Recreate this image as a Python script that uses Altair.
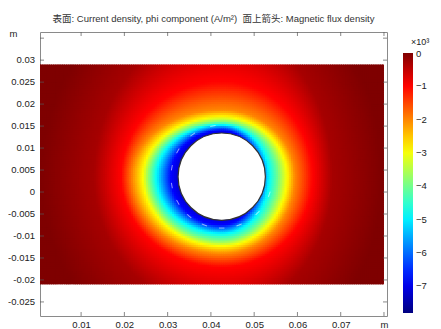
import numpy as np
import pandas as pd
import altair as alt

# ---- text / ticks ----
title_text = "表面: Current density, phi component (A/m²)\u00a0\u00a0面上箭头: Magnetic flux density"
x_tick_values = [0.01, 0.02, 0.03, 0.04, 0.05, 0.06, 0.07, 0.08]
y_tick_values = [-0.025, -0.02, -0.015, -0.01, -0.005, 0.0, 0.005, 0.01, 0.015, 0.02, 0.025, 0.03]
y_tick_labels = ["-0.025", "-0.02", "-0.015", "-0.01", "-0.005", "0",
                 "0.005", "0.01", "0.015", "0.02", "0.025", "0.03"]
y_tick_marks = y_tick_values + [0.035]
legend_values = [-7, -6, -5, -4, -3, -2, -1]
legend_top_label = ["×10³", "0"]

# ---- geometry (m) ----
rect_x = [0.0, 0.08]
rect_y = [-0.021, 0.029]
hole_cx, hole_cy, hole_r = 0.0425, 0.0035, 0.01

# ---- field: contour levels (x10^3 A/m^2) and their
#      distance from the hole centre toward left / right / top / bottom (m)
levels   = [-7.2, -6.8, -4.9, -4.0, -2.9, -2.0, -1.0, -0.3, 0.0]
r_left   = [0.0100, 0.0118, 0.0151, 0.0166, 0.0183, 0.0207, 0.0232, 0.0295, 0.0416]
r_right  = [0.0069, 0.0085, 0.0109, 0.0129, 0.0151, 0.0169, 0.0209, 0.0255, 0.0370]
r_top    = [0.0097, 0.0106, 0.0118, 0.0124, 0.0136, 0.0152, 0.0216, 0.0341, 0.0455]
r_bottom = [0.0094, 0.0110, 0.0129, 0.0144, 0.0158, 0.0175, 0.0205, 0.0305, 0.0432]

# ---- faint flux-density arrows seen around the hole (polar angle, degrees)
arrow_angles = [100, 125, 150, 170, 190, 210, 230, 250, 270, 290, 315, 340]
arrow_radius = 0.0117

color_domain = [-7.8, -6.825, -4.875, -2.925, -0.975, 0.0]
color_range = ["#00007f", "#0000ff", "#00ffff", "#ffff00", "#ff0000", "#7f0000"]

# ---- build the surface cells ----
step = 0.0005
xs = np.arange(rect_x[0], rect_x[1] - 1e-9, step)
ys = np.arange(rect_y[0], rect_y[1] - 1e-9, step)
X, Y = np.meshgrid(xs, ys)
dx = X + step / 2 - hole_cx
dy = Y + step / 2 - hole_cy
L = np.array(r_left)[:, None, None]
R = np.array(r_right)[:, None, None]
T = np.array(r_top)[:, None, None]
B = np.array(r_bottom)[:, None, None]
lv = np.array(levels)
rx = np.where(dx[None] < 0, L, R)
ry = np.where(dy[None] > 0, T, B)
q = np.sqrt((dx[None] / rx) ** 2 + (dy[None] / ry) ** 2)
p = 1.0 / np.maximum(q, 1e-9)
inside = p >= 1
any_in = inside.any(0)
k = np.argmax(inside, 0)
km1 = np.maximum(k - 1, 0)
pk = np.take_along_axis(p, k[None], 0)[0]
pk1 = np.take_along_axis(p, km1[None], 0)[0]
t = np.where(k > 0, (1 - pk1) / np.maximum(pk - pk1, 1e-9), 0.0)
v = lv[km1] + t * (lv[k] - lv[km1])
v = np.where(k == 0, lv[0], v)
v = np.where(any_in, v, 0.0)
dist = np.sqrt(dx ** 2 + dy ** 2)
keep = dist > hole_r - 0.0009

cells = pd.DataFrame({
    "x": np.round(X[keep], 4),
    "y": np.round(Y[keep], 4),
    "v": np.round(v[keep], 3),
})
cells["xe"] = np.minimum(cells["x"] + 0.0008, rect_x[1])
cells["ye"] = np.minimum(cells["y"] + 0.0008, rect_y[1])

ang = np.radians(arrow_angles)
arrows = pd.DataFrame({
    "x": hole_cx + arrow_radius * np.cos(ang),
    "y": hole_cy + arrow_radius * np.sin(ang),
    "rot": np.mod(-(np.array(arrow_angles) + 90.0), 360.0),
})

W, H = 347, 284
xscale = alt.Scale(domain=[0.0005, 0.0807], nice=False, zero=False)
yscale = alt.Scale(domain=[-0.0282, 0.0364], nice=False, zero=False)
label_font = "Liberation Sans"
text_color = "#222222"

surface = alt.Chart(cells).mark_rect(clip=True, strokeWidth=0).encode(
    x=alt.X("x:Q", scale=xscale,
            axis=alt.Axis(values=x_tick_values, ticks=False, grid=False, domain=False,
                          labelExpr="datum.value > 0.0795 ? 'm' : '' + datum.value",
                          labelOverlap=False,
                          labelFont=label_font, labelFontSize=9.5, labelColor=text_color,
                          labelPadding=3, title=None)),
    x2="xe:Q",
    y=alt.Y("y:Q", scale=yscale,
            axis=alt.Axis(values=y_tick_values, ticks=False, grid=False, domain=False,
                          labels=False,
                          title="m", titleAngle=0, titleX=-27, titleY=1,
                          titleAlign="center", titleBaseline="middle",
                          titleFont=label_font, titleFontSize=9.5,
                          titleFontWeight="normal", titleColor=text_color)),
    y2="ye:Q",
    color=alt.Color("v:Q",
                    scale=alt.Scale(domain=color_domain, range=color_range, interpolate="rgb"),
                    legend=alt.Legend(orient="none", legendX=363, legendY=21,
                                      direction="vertical", gradientLength=260,
                                      gradientThickness=10, values=legend_values,
                                      title=None, labelOffset=3, labelFont=label_font,
                                      labelFontSize=9.5, labelColor=text_color, padding=0,
                                      gradientStrokeWidth=0)),
)

flux_arrows = alt.Chart(arrows).mark_point(
    shape="stroke", color="white", strokeWidth=1, opacity=0.55, size=30
).encode(x=alt.X("x:Q", scale=xscale), y=alt.Y("y:Q", scale=yscale),
         angle=alt.Angle("rot:Q", scale=None))

hole = alt.Chart(pd.DataFrame({"x": [hole_cx], "y": [hole_cy]})).mark_point(
    shape="circle", filled=True, fill="white", stroke="#333333", strokeWidth=1.2,
    opacity=1, size=7620
).encode(x=alt.X("x:Q", scale=xscale), y=alt.Y("y:Q", scale=yscale))

xt = pd.DataFrame({"x": x_tick_values})
yt = pd.DataFrame({"y": y_tick_marks})
tick_color = "#555555"
bottom_ticks = alt.Chart(xt).mark_tick(orient="vertical", size=4, thickness=1, color=tick_color).encode(
    x=alt.X("x:Q", scale=xscale), y=alt.value(H - 2))
top_ticks = alt.Chart(xt).mark_tick(orient="vertical", size=4, thickness=1, color=tick_color).encode(
    x=alt.X("x:Q", scale=xscale), y=alt.value(2))
left_ticks = alt.Chart(yt).mark_tick(orient="horizontal", size=4, thickness=1, color=tick_color).encode(
    y=alt.Y("y:Q", scale=yscale), x=alt.value(2))
right_ticks = alt.Chart(yt).mark_tick(orient="horizontal", size=4, thickness=1, color=tick_color).encode(
    y=alt.Y("y:Q", scale=yscale), x=alt.value(W - 2))

ylab = alt.Chart(pd.DataFrame({"y": y_tick_values, "lab": y_tick_labels})).mark_text(
    align="right", baseline="middle", font=label_font, fontSize=9.5, color=text_color
).encode(y=alt.Y("y:Q", scale=yscale), x=alt.value(-5), text="lab:N")

exp_label = alt.Chart(pd.DataFrame({"t": [legend_top_label[0]]})).mark_text(
    align="left", baseline="middle", font=label_font, fontSize=9, color=text_color
).encode(text="t:N", x=alt.value(371), y=alt.value(10))

zero_label = alt.Chart(pd.DataFrame({"t": [legend_top_label[1]]})).mark_text(
    align="left", baseline="middle", font=label_font, fontSize=9.5, color=text_color
).encode(text="t:N", x=alt.value(376), y=alt.value(22))

chart = alt.layer(
    surface, flux_arrows, hole, bottom_ticks, top_ticks, left_ticks, right_ticks,
    ylab, exp_label, zero_label
).properties(
    width=W, height=H,
    title=alt.TitleParams(text=title_text, font="Liberation Sans, Noto Sans CJK SC",
                          fontSize=9.5, fontWeight="normal", color="#333333", offset=5,
                          anchor="middle"),
    padding={"left": 32, "top": 24, "right": 46, "bottom": 13},
    autosize=alt.AutoSizeParams(type="none"),
).configure_view(stroke="#8a8a8a", strokeWidth=1).configure_axis(labelOverlap=False)

chart.save("out.html", embed_options={"renderer": "svg", "actions": False})
